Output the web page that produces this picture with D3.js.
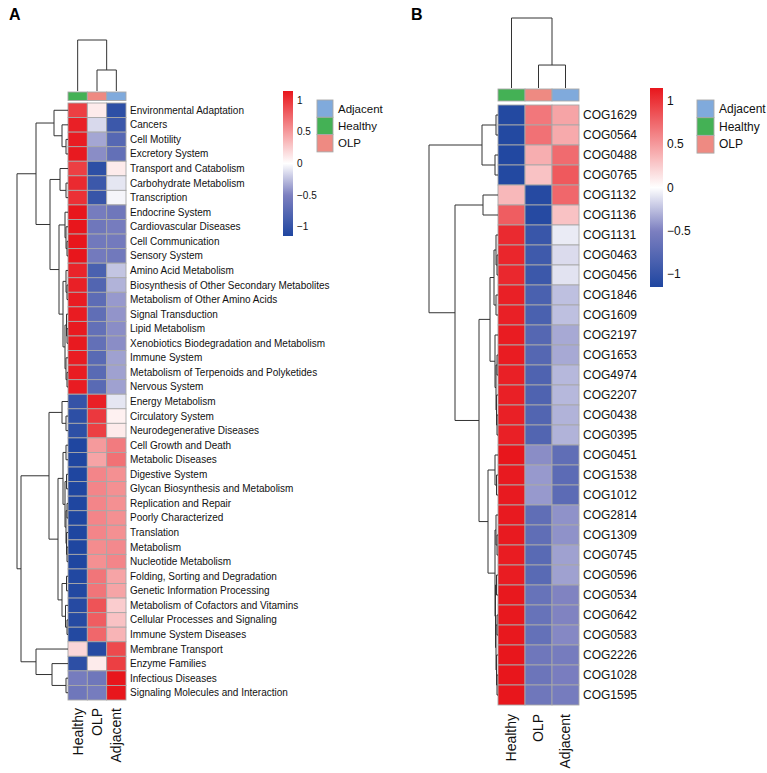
<!DOCTYPE html>
<html>
<head>
<meta charset="utf-8">
<script src="https://cdn.jsdelivr.net/npm/d3@7"></script>
<style>
  html, body { margin: 0; padding: 0; background: #fff; }
  svg { display: block; font-family: "Liberation Sans", Arial, Helvetica, sans-serif; }
</style>
</head>
<body>
<svg id="chart" width="767" height="773"></svg>
<script>
// ---------------- DATA ----------------
const groups = ["Healthy", "OLP", "Adjacent"];
const legendGroups = ["Adjacent", "Healthy", "OLP"];
const groupColors = ["#44B155", "#EE8A82", "#80AADC"]; // Healthy, OLP, Adjacent
const legendTicks = [1, 0.5, 0, -0.5, -1];

const rowsA = ["Environmental Adaptation", "Cancers", "Cell Motility", "Excretory System",
  "Transport and Catabolism", "Carbohydrate Metabolism", "Transcription", "Endocrine System",
  "Cardiovascular Diseases", "Cell Communication", "Sensory System", "Amino Acid Metabolism",
  "Biosynthesis of Other Secondary Metabolites", "Metabolism of Other Amino Acids",
  "Signal Transduction", "Lipid Metabolism", "Xenobiotics Biodegradation and Metabolism",
  "Immune System", "Metabolism of Terpenoids and Polyketides", "Nervous System",
  "Energy Metabolism", "Circulatory System", "Neurodegenerative Diseases",
  "Cell Growth and Death", "Metabolic Diseases", "Digestive System",
  "Glycan Biosynthesis and Metabolism", "Replication and Repair", "Poorly Characterized",
  "Translation", "Metabolism", "Nucleotide Metabolism", "Folding, Sorting and Degradation",
  "Genetic Information Processing", "Metabolism of Cofactors and Vitamins",
  "Cellular Processes and Signaling", "Immune System Diseases", "Membrane Transport",
  "Enzyme Families", "Infectious Diseases", "Signaling Molecules and Interaction"];

// z-scores per row: [Healthy, OLP, Adjacent]
const healthyA = [0.95, 1.10, 1.12, 1.13, 0.95, 1.05, 1.02, 1.15, 1.15, 1.15, 1.15, 1.08, 1.10, 1.12,
  1.12, 1.13, 1.13, 1.12, 1.12, 1.12, -1.00, -1.05, -1.05, -1.15, -1.15, -1.15, -1.15, -1.15,
  -1.15, -1.15, -1.15, -1.15, -1.13, -1.13, -1.10, -1.10, -1.12, 0.20, -1.05, -0.55, -0.60];
const olpA = [0.10, -0.15, -0.35, -0.45, -1.05, -0.95, -0.98, -0.55, -0.60, -0.58, -0.57, -0.85,
  -0.80, -0.72, -0.70, -0.68, -0.68, -0.75, -0.75, -0.75, 1.10, 0.98, 0.95, 0.50, 0.45, 0.60,
  0.60, 0.60, 0.60, 0.60, 0.57, 0.55, 0.68, 0.68, 0.85, 0.80, 0.75, -1.10, 0.10, -0.60, -0.55];
const adjacentA = [-1.05, -0.95, -0.77, -0.68, 0.10, -0.10, -0.04, -0.60, -0.55, -0.57, -0.58,
  -0.23, -0.30, -0.40, -0.42, -0.45, -0.45, -0.37, -0.37, -0.37, -0.10, 0.07, 0.10, 0.65, 0.70,
  0.55, 0.55, 0.55, 0.55, 0.55, 0.58, 0.60, 0.45, 0.45, 0.25, 0.30, 0.37, 0.90, 0.95, 1.15, 1.15];

const rowsB = ["COG1629", "COG0564", "COG0488", "COG0765", "COG1132", "COG1136", "COG1131",
  "COG0463", "COG0456", "COG1846", "COG1609", "COG2197", "COG1653", "COG4974", "COG2207",
  "COG0438", "COG0395", "COG0451", "COG1538", "COG1012", "COG2814", "COG1309", "COG0745",
  "COG0596", "COG0534", "COG0642", "COG0583", "COG2226", "COG1028", "COG1595"];
const healthyB = [-1.12, -1.12, -1.13, -1.12, 0.35, 0.80, 1.05, 1.07, 1.06, 1.10, 1.10, 1.12, 1.12,
  1.10, 1.10, 1.10, 1.10, 1.15, 1.13, 1.13, 1.13, 1.13, 1.12, 1.12, 1.14, 1.14, 1.14, 1.15, 1.15, 1.15];
const olpB = [0.67, 0.70, 0.40, 0.30, -1.10, -1.10, -0.97, -0.93, -0.95, -0.85, -0.85, -0.78, -0.78,
  -0.82, -0.82, -0.80, -0.80, -0.45, -0.40, -0.40, -0.70, -0.70, -0.75, -0.75, -0.65, -0.65,
  -0.67, -0.60, -0.62, -0.60];
const adjacentB = [0.45, 0.42, 0.73, 0.82, 0.75, 0.30, -0.08, -0.14, -0.11, -0.25, -0.25, -0.34,
  -0.34, -0.28, -0.28, -0.30, -0.30, -0.70, -0.73, -0.73, -0.43, -0.43, -0.37, -0.37, -0.49,
  -0.49, -0.47, -0.55, -0.53, -0.55];

// dendrograms: [height, left, right], leaves are row / column indices
const colTreeA = [50, 0, [20.6, 1, 2]];
const colTreeB = [50, 0, [16.4, 1, 2]];
const rowTreeA =
  [51,
    [32,
      [14, 0, [6, 1, [2, 2, 3]]],
      [18,
        [8, 4, [2, 5, 6]],
        [9,
          [3, 7, [2, 8, [1, 9, 10]]],
          [5,
            [2, 11, [1, 12, 13]],
            [3, [1.5, 14, [1, 15, 16]], [2, 17, [1, 18, 19]]]]]]],
    [47,
      [19,
        [6, 20, [2, 21, 22]],
        [10,
          [5, [2, 23, 24], [3, [1.5, 25, 26], [2, [1, 27, 28], [1.5, 29, [1, 30, 31]]]]],
          [6, [1.5, 32, 33], [2.5, 34, [1, 35, 36]]]]],
      [32, 37, [16, 38, [2, 39, 40]]]]];
const rowTreeB =
  [69,
    [16, [2, 0, 1], [3, 2, 3]],
    [43,
      [15, 4, 5],
      [19,
        [8,
          [4, [2, 6, [1, 7, 8]], [2, 9, 10]],
          [3, 11, [2, [1, 12, 13], [1.5, 14, [1, 15, 16]]]]],
        [10,
          [3, 17, [1.5, 18, 19]],
          [3, [2, 20, [1, 21, 22]], [2.5, [1.5, 23, 24], [2, [1, 25, 26], [1.5, 27, [1, 28, 29]]]]]]]]];

// ---------------- DRAWING ----------------
const svg = d3.select("#chart");
svg.append("rect").attr("width", 767).attr("height", 773).attr("fill", "#fff");

const color = d3.scaleLinear()
  .domain([-1.15, -0.5, 0, 1.15])
  .range(["#1F46A0", "#7D80C0", "#FFFFFF", "#E8161C"])
  .clamp(true);

const fmt = v => (v < 0 ? "\u2212" : "") + Math.abs(v);

function drawTree(g, tree, posScale, hScale, orient) {
  // returns position (along leaves) of node
  function walk(node) {
    if (typeof node === "number") return { p: posScale(node), h: 0 };
    const [h, l, r] = node;
    const a = walk(l), b = walk(r);
    const p = (a.p + b.p) / 2;
    const segs = [];
    if (orient === "row") {
      segs.push([hScale(h), a.p, hScale(h), b.p]);
      segs.push([hScale(h), a.p, hScale(a.h), a.p]);
      segs.push([hScale(h), b.p, hScale(b.h), b.p]);
    } else {
      segs.push([a.p, hScale(h), b.p, hScale(h)]);
      segs.push([a.p, hScale(h), a.p, hScale(a.h)]);
      segs.push([b.p, hScale(h), b.p, hScale(b.h)]);
    }
    segs.forEach(s => g.append("line")
      .attr("x1", s[0]).attr("y1", s[1]).attr("x2", s[2]).attr("y2", s[3])
      .attr("stroke", "#333").attr("stroke-width", 1));
    return { p, h };
  }
  walk(tree);
}

function panel(cfg) {
  const g = svg.append("g");
  const x = d3.scaleBand().domain(d3.range(groups.length)).range([cfg.x0, cfg.x1]);
  const y = d3.scaleBand().domain(d3.range(cfg.rows.length)).range([cfg.y0, cfg.y1]);
  const vals = [cfg.healthy, cfg.olp, cfg.adjacent];

  // panel letter
  g.append("text").attr("x", cfg.letterX).attr("y", 20).text(cfg.letter)
    .attr("font-size", 16).attr("font-weight", "bold").attr("fill", "#000");

  // cells
  cfg.rows.forEach((r, i) => {
    groups.forEach((c, j) => {
      g.append("rect")
        .attr("x", x(j)).attr("y", y(i))
        .attr("width", x.bandwidth()).attr("height", y.bandwidth())
        .attr("fill", color(vals[j][i]))
        .attr("stroke", "#A8A8A8").attr("stroke-width", 0.9);
    });
    g.append("text")
      .attr("x", cfg.x1 + cfg.labelGap).attr("y", y(i) + y.bandwidth() / 2)
      .attr("dy", "0.35em").attr("font-size", cfg.rowFont).attr("fill", "#111")
      .text(r);
  });

  // annotation bar
  groups.forEach((c, j) => {
    g.append("rect")
      .attr("x", x(j)).attr("y", cfg.annY0)
      .attr("width", x.bandwidth()).attr("height", cfg.annY1 - cfg.annY0)
      .attr("fill", groupColors[j]).attr("stroke", "#A8A8A8").attr("stroke-width", 0.9);
  });

  // column labels
  groups.forEach((c, j) => {
    const cx = x(j) + x.bandwidth() / 2;
    g.append("text")
      .attr("transform", `translate(${cx},${cfg.colLabelY}) rotate(-90)`)
      .attr("text-anchor", "end").attr("dy", "0.35em")
      .attr("font-size", 14).attr("fill", "#111").text(c);
  });

  // column dendrogram
  const colPos = i => x(i) + x.bandwidth() / 2;
  const colH = d3.scaleLinear().domain([0, 50]).range([cfg.annY0 - 1, cfg.colTop]);
  drawTree(g, cfg.colTree, colPos, colH, "col");

  // row dendrogram
  const rowPos = i => y(i) + y.bandwidth() / 2;
  const rowH = d3.scaleLinear().domain([0, cfg.rowTree[0]]).range([cfg.x0, cfg.rowRootX]);
  drawTree(g, cfg.rowTree, rowPos, rowH, "row");

  // color legend
  const ly = d3.scaleLinear().domain([-1.15, 1.15]).range([cfg.legY1, cfg.legY0]);
  const gradId = "grad" + cfg.letter;
  const grad = svg.append("defs").append("linearGradient").attr("id", gradId)
    .attr("x1", 0).attr("y1", 1).attr("x2", 0).attr("y2", 0);
  d3.range(0, 1.0001, 0.02).forEach(t => {
    grad.append("stop").attr("offset", t).attr("stop-color", color(-1.15 + 2.3 * t));
  });
  g.append("rect").attr("x", cfg.legX).attr("y", cfg.legY0)
    .attr("width", cfg.legW).attr("height", cfg.legY1 - cfg.legY0)
    .attr("fill", `url(#${gradId})`);
  legendTicks.forEach(v => {
    g.append("text").attr("x", cfg.legX + cfg.legW + 4).attr("y", ly(v))
      .attr("dy", "0.35em").attr("font-size", cfg.legFont).attr("fill", "#111").text(fmt(v));
  });

  // group legend
  legendGroups.forEach((name, k) => {
    const ci = groups.indexOf(name);
    const by = cfg.boxY0 + k * cfg.boxH;
    g.append("rect").attr("x", cfg.boxX).attr("y", by)
      .attr("width", cfg.boxW).attr("height", cfg.boxH)
      .attr("fill", groupColors[ci]).attr("stroke", "#A8A8A8").attr("stroke-width", 0.9);
    g.append("text").attr("x", cfg.boxX + cfg.boxW + 5).attr("y", by + cfg.boxH / 2)
      .attr("dy", "0.35em").attr("font-size", cfg.boxFont).attr("fill", "#111").text(name);
  });
}

panel({
  letter: "A", letterX: 9,
  rows: rowsA, healthy: healthyA, olp: olpA, adjacent: adjacentA,
  x0: 68, x1: 126, y0: 103, y1: 700, labelGap: 4, rowFont: 10,
  annY0: 92, annY1: 100.5, colTop: 40, colLabelY: 708,
  colTree: colTreeA, rowTree: rowTreeA, rowRootX: 17,
  legX: 283, legW: 10, legY0: 91, legY1: 236, legFont: 10,
  boxX: 317, boxY0: 100, boxW: 16, boxH: 17.3, boxFont: 11.5
});

panel({
  letter: "B", letterX: 411,
  rows: rowsB, healthy: healthyB, olp: olpB, adjacent: adjacentB,
  x0: 498, x1: 579, y0: 105, y1: 705, labelGap: 4, rowFont: 12,
  annY0: 89, annY1: 101, colTop: 18, colLabelY: 714,
  colTree: colTreeB, rowTree: rowTreeB, rowRootX: 429,
  legX: 650, legW: 13, legY0: 88, legY1: 287, legFont: 12,
  boxX: 697, boxY0: 100, boxW: 17, boxH: 17.7, boxFont: 12
});
</script>
</body>
</html>
